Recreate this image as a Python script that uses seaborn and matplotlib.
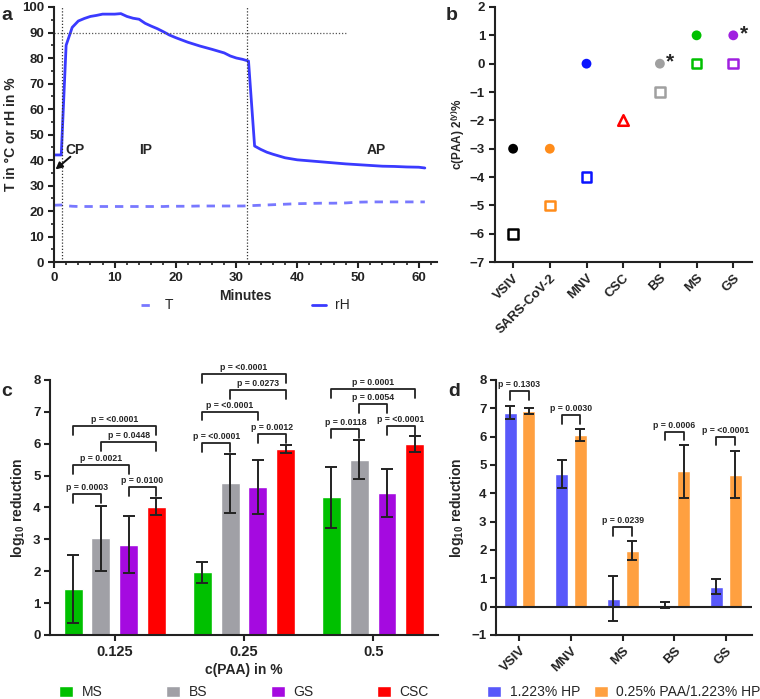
import numpy as np
import matplotlib.pyplot as plt
from matplotlib.ticker import MultipleLocator
import pandas as pd
import seaborn as sns

# a: chamber log
minutes = [0, 1.2, 2, 3, 4, 5, 6, 7, 8, 9, 10,
           11, 12, 13, 14, 15, 16, 17, 18, 19, 20,
           22, 24, 26, 28, 29, 30, 31, 32,
           33, 34, 35, 36, 37, 38,
           40, 42, 44, 46, 48, 50, 52, 54, 56, 58, 60, 61]
rh = [42, 42, 85, 92, 94.5, 95.5, 96.3, 96.7, 97.2, 97.2, 97.2,
      97.4, 96.3, 95.6, 95.2, 93.6, 92.5, 91.5, 90.3, 89, 88,
      86.2, 84.7, 83.4, 82, 80.8, 80, 79.5, 78.8,
      45.5, 44.2, 43.1, 42.3, 41.6, 40.9,
      40.1, 39.7, 39.3, 38.9, 38.5, 38.2, 37.9, 37.6, 37.5, 37.3, 37.2, 36.9]
temp = [22.3, 22.4, 22.1, 21.9, 21.8, 21.8, 21.8, 21.8, 21.8, 21.8, 21.8,
        21.8, 21.8, 21.8, 21.8, 21.8, 21.8, 21.8, 21.8, 21.9, 21.9,
        21.9, 22.0, 22.0, 22.0, 22.0, 22.0, 22.0, 22.1,
        22.2, 22.3, 22.4, 22.5, 22.6, 22.7,
        22.9, 23.0, 23.1, 23.1, 23.2, 23.5, 23.6, 23.6, 23.6, 23.6, 23.6, 23.6]

# b: minimal concentrations
b_agents = ['VSIV', 'SARS-CoV-2', 'MNV', 'CSC', 'BS', 'MS', 'GS']
b_colors = ['#000000', '#ff8c1a', '#0a14ff', '#ff0000', '#a0a0a0', '#00c000', '#a020e0']
b_circle_agents = ['VSIV', 'SARS-CoV-2', 'MNV', 'BS', 'MS', 'GS']
b_circle = [-3, -3, 0, 0, 1, 1]
b_square_agents = ['VSIV', 'SARS-CoV-2', 'MNV', 'BS', 'MS', 'GS']
b_square = [-6, -5, -4, -1, 0, 0]
b_triangle_agents = ['CSC']
b_triangle = [-2]
b_star_agents = ['BS', 'GS']

# c: PAA concentrations
c_conc = ['0.125', '0.25', '0.5']
c_germs = ['MS', 'BS', 'GS', 'CSC']
c_colors = ['#00c000', '#a0a0a6', '#a50ae0', '#ff0000']
c_ms = [1.45, 1.97, 4.32]
c_ms_err = [1.07, 0.33, 0.95]
c_bs = [3.03, 4.76, 5.50]
c_bs_err = [1.02, 0.93, 0.61]
c_gs = [2.83, 4.65, 4.45]
c_gs_err = [0.90, 0.85, 0.75]
c_csc = [4.03, 5.83, 6.00]
c_csc_err = [0.27, 0.12, 0.25]
c_brackets = [
    ('0.125', 'MS', 'BS', 'p = 0.0003', 4.42),
    ('0.125', 'GS', 'CSC', 'p = 0.0100', 4.64),
    ('0.125', 'MS', 'GS', 'p = 0.0021', 5.33),
    ('0.125', 'BS', 'CSC', 'p = 0.0448', 6.05),
    ('0.125', 'MS', 'CSC', 'p = <0.0001', 6.55),
    ('0.25', 'MS', 'BS', 'p = <0.0001', 6.02),
    ('0.25', 'GS', 'CSC', 'p = 0.0012', 6.30),
    ('0.25', 'MS', 'GS', 'p = <0.0001', 7.00),
    ('0.25', 'BS', 'CSC', 'p = 0.0273', 7.68),
    ('0.25', 'MS', 'CSC', 'p = <0.0001', 8.18),
    ('0.5', 'MS', 'BS', 'p = 0.0118', 6.45),
    ('0.5', 'GS', 'CSC', 'p = <0.0001', 6.55),
    ('0.5', 'BS', 'GS', 'p = 0.0054', 7.24),
    ('0.5', 'MS', 'CSC', 'p = 0.0001', 7.71),
]

# d: HP vs PAA/HP
d_agents = ['VSIV', 'MNV', 'MS', 'BS', 'GS']
d_treat = ['1.223% HP', '0.25% PAA/1.223% HP']
d_colors = ['#5858fa', '#ffa040']
d_hp = [6.85, 4.68, 0.28, 0.05, 0.71]
d_hp_err = [0.23, 0.48, 0.79, 0.10, 0.26]
d_paa = [6.90, 6.05, 1.98, 4.77, 4.66]
d_paa_err = [0.10, 0.22, 0.32, 0.93, 0.84]
d_brackets = [
    ('VSIV', 'p = 0.1303', 7.60),
    ('MNV', 'p = 0.0030', 6.75),
    ('MS', 'p = 0.0239', 2.80),
    ('BS', 'p = 0.0006', 6.18),
    ('GS', 'p = <0.0001', 6.00),
]

sns.set_theme(style='ticks')
plt.rcParams['font.family'] = ['Liberation Sans', 'DejaVu Sans']
plt.rcParams['mathtext.default'] = 'regular'
plt.rcParams['axes.linewidth'] = 1.5
plt.rcParams['axes.edgecolor'] = '#222222'
for k in ['xtick', 'ytick']:
    plt.rcParams[k + '.major.width'] = 1.5
    plt.rcParams[k + '.major.size'] = 4.5
    plt.rcParams[k + '.major.pad'] = 2.5
    plt.rcParams[k + '.minor.width'] = 1.2
    plt.rcParams[k + '.minor.size'] = 2.5
    plt.rcParams[k + '.color'] = '#222222'

TICK = 9.5
LAB = 10


def style(ax, size=TICK):
    sns.despine(ax=ax)
    ax.tick_params(labelsize=size)
    for lab in ax.get_xticklabels() + ax.get_yticklabels():
        lab.set_fontweight('bold')


def bracket(ax, x1, x2, y, text, h=0.27):
    ax.plot([x1, x1, x2, x2], [y - h, y, y, y - h], color='#222222', lw=1.3, clip_on=False)
    ax.text((x1 + x2) / 2, y + 0.07, text, ha='center', va='bottom',
            fontsize=6.3, fontweight='bold', clip_on=False)


fig = plt.figure(figsize=(7.6, 6.99), dpi=100)
ax_a = fig.add_axes([0.071, 0.625, 0.504, 0.365])
ax_b = fig.add_axes([0.651, 0.625, 0.338, 0.365])
ax_c = fig.add_axes([0.066, 0.0916, 0.510, 0.3648])
ax_d = fig.add_axes([0.653, 0.0916, 0.336, 0.3648])

# ---- a
sns.lineplot(x=minutes, y=temp, ax=ax_a, color='#7878ff', lw=2, linestyle=(0, (3, 2.5)), label='T')
sns.lineplot(x=minutes, y=rh, ax=ax_a, color='#3a3aff', lw=2, label='rH')
ax_a.axvline(1.3, color='#333333', lw=0.9, ls=(0, (1, 1.5)))
ax_a.axvline(31.8, color='#333333', lw=0.9, ls=(0, (1, 1.5)))
ax_a.plot([0, 48], [90, 90], color='#555555', lw=0.9, ls=(0, (1, 1.5)))
ax_a.set_xlim(0, 63)
ax_a.set_ylim(0, 100)
ax_a.xaxis.set_major_locator(MultipleLocator(10))
ax_a.xaxis.set_minor_locator(MultipleLocator(2))
ax_a.yaxis.set_major_locator(MultipleLocator(10))
ax_a.yaxis.set_minor_locator(MultipleLocator(5))
ax_a.text(3.5, 44, 'CP', ha='center', va='center', fontsize=LAB, fontweight='bold')
ax_a.text(15.1, 44, 'IP', ha='center', va='center', fontsize=LAB, fontweight='bold')
ax_a.text(53, 44, 'AP', ha='center', va='center', fontsize=LAB, fontweight='bold')
ax_a.annotate('', xy=(0.25, 36.3), xytext=(2.7, 41.3),
              arrowprops=dict(arrowstyle='-|>', color='#111111', lw=1.4, mutation_scale=10,
                              shrinkA=0, shrinkB=0))
ax_a.set_xlabel('Minutes', fontsize=LAB, fontweight='bold', labelpad=4)
ax_a.set_ylabel('T in °C or rH in %', fontsize=LAB, fontweight='bold', labelpad=3)
style(ax_a)
ax_a.legend(loc='center', bbox_to_anchor=(0.5, -0.17), ncol=2, frameon=False,
            columnspacing=10, handlelength=1.0, handletextpad=0.7, fontsize=LAB)

# ---- b
bpos = {a: i for i, a in enumerate(b_agents)}
bcol = dict(zip(b_agents, b_colors))
sns.scatterplot(x=[bpos[a] for a in b_circle_agents], y=b_circle, ax=ax_b,
                hue=b_circle_agents, palette=bcol, s=50, edgecolor='none', legend=False)
ax_b.scatter([bpos[a] for a in b_square_agents], b_square, marker='s', s=48,
             facecolors='white', edgecolors=[bcol[a] for a in b_square_agents], linewidths=1.8, zorder=3)
ax_b.scatter([bpos[a] for a in b_triangle_agents], b_triangle, marker='^', s=58,
             facecolors='white', edgecolors=[bcol[a] for a in b_triangle_agents], linewidths=1.8, zorder=3)
for a in b_star_agents:
    i = b_circle_agents.index(a)
    ax_b.text(bpos[a] + 0.17, b_circle[i] + 0.05, '*', fontsize=15, fontweight='bold',
              ha='left', va='center')
ax_b.set_xlim(-0.5, 6.5)
ax_b.set_ylim(-7, 2)
ax_b.set_xticks(range(len(b_agents)))
ax_b.set_xticklabels(b_agents, rotation=45, ha='right', rotation_mode='anchor')
ax_b.set_yticks(range(-7, 3))
ax_b.set_ylabel(r'c(PAA) 2$^{(y)}$%', fontsize=8.5, fontweight='bold', labelpad=2)
style(ax_b)

# ---- c
rows = []
for g, vals in zip(c_germs, [c_ms, c_bs, c_gs, c_csc]):
    for cc, v in zip(c_conc, vals):
        rows.append({'conc': cc, 'germ': g, 'val': v})
df_c = pd.DataFrame(rows)
sns.barplot(data=df_c, x='conc', y='val', hue='germ', order=c_conc, hue_order=c_germs,
            palette=c_colors, saturation=1, width=0.86, gap=0.32, errorbar=None, ax=ax_c)
cx = {}
for cont, g in zip(ax_c.containers, c_germs):
    for bar, cc in zip(cont, c_conc):
        cx[(cc, g)] = bar.get_x() + bar.get_width() / 2
for g, vals, errs in zip(c_germs, [c_ms, c_bs, c_gs, c_csc],
                         [c_ms_err, c_bs_err, c_gs_err, c_csc_err]):
    ax_c.errorbar([cx[(cc, g)] for cc in c_conc], vals, yerr=errs, fmt='none',
                  ecolor='#222222', elinewidth=1.4, capsize=4.5, capthick=1.4)
for cc, g1, g2, t, y in c_brackets:
    bracket(ax_c, cx[(cc, g1)], cx[(cc, g2)], y, t)
ax_c.set_xlim(-0.5, 2.5)
ax_c.set_ylim(0, 8)
ax_c.set_ylabel(r'log$_{10}$ reduction', fontsize=LAB, fontweight='bold', labelpad=4)
ax_c.set_xlabel('c(PAA) in %', fontsize=LAB, fontweight='bold', labelpad=3)
style(ax_c)
ax_c.tick_params(axis='x', labelsize=10.5)
sns.move_legend(ax_c, 'center', bbox_to_anchor=(0.5, -0.225), ncol=4, frameon=False, title=None,
                columnspacing=4.6, handlelength=1.0, handleheight=0.9, handletextpad=0.6, fontsize=LAB)

# ---- d
rows = []
for tr, vals in zip(d_treat, [d_hp, d_paa]):
    for ag, v in zip(d_agents, vals):
        rows.append({'agent': ag, 'treat': tr, 'val': v})
df_d = pd.DataFrame(rows)
sns.barplot(data=df_d, x='agent', y='val', hue='treat', order=d_agents, hue_order=d_treat,
            palette=d_colors, saturation=1, width=0.73, gap=0.31, errorbar=None, ax=ax_d)
dx = {}
for cont, tr in zip(ax_d.containers, d_treat):
    for bar, ag in zip(cont, d_agents):
        dx[(ag, tr)] = bar.get_x() + bar.get_width() / 2
for tr, vals, errs in zip(d_treat, [d_hp, d_paa], [d_hp_err, d_paa_err]):
    ax_d.errorbar([dx[(ag, tr)] for ag in d_agents], vals, yerr=errs, fmt='none',
                  ecolor='#222222', elinewidth=1.4, capsize=3.5, capthick=1.4)
for ag, t, y in d_brackets:
    bracket(ax_d, dx[(ag, d_treat[0])], dx[(ag, d_treat[1])], y, t, h=0.3)
ax_d.axhline(0, color='#222222', lw=1.5)
ax_d.set_xlim(-0.45, 4.5)
ax_d.set_ylim(-1, 8)
ax_d.set_yticks(range(-1, 9))
ax_d.set_xlabel('')
ax_d.set_ylabel(r'log$_{10}$ reduction', fontsize=LAB, fontweight='bold', labelpad=4)
ax_d.set_xticks(range(len(d_agents)))
ax_d.set_xticklabels(d_agents, rotation=45, ha='right', rotation_mode='anchor')
style(ax_d)
sns.move_legend(ax_d, 'center', bbox_to_anchor=(0.5, -0.225), ncol=2, frameon=False, title=None,
                columnspacing=1.0, handlelength=1.0, handleheight=0.9, handletextpad=0.6, fontsize=LAB)

# panel letters
for x, y, s in [(0.002, 0.978, 'a'), (0.587, 0.978, 'b'), (0.002, 0.44, 'c'), (0.59, 0.44, 'd')]:
    fig.text(x, y, s, fontsize=14, fontweight='bold', va='center')

fig.savefig('out.png', dpi=100)
